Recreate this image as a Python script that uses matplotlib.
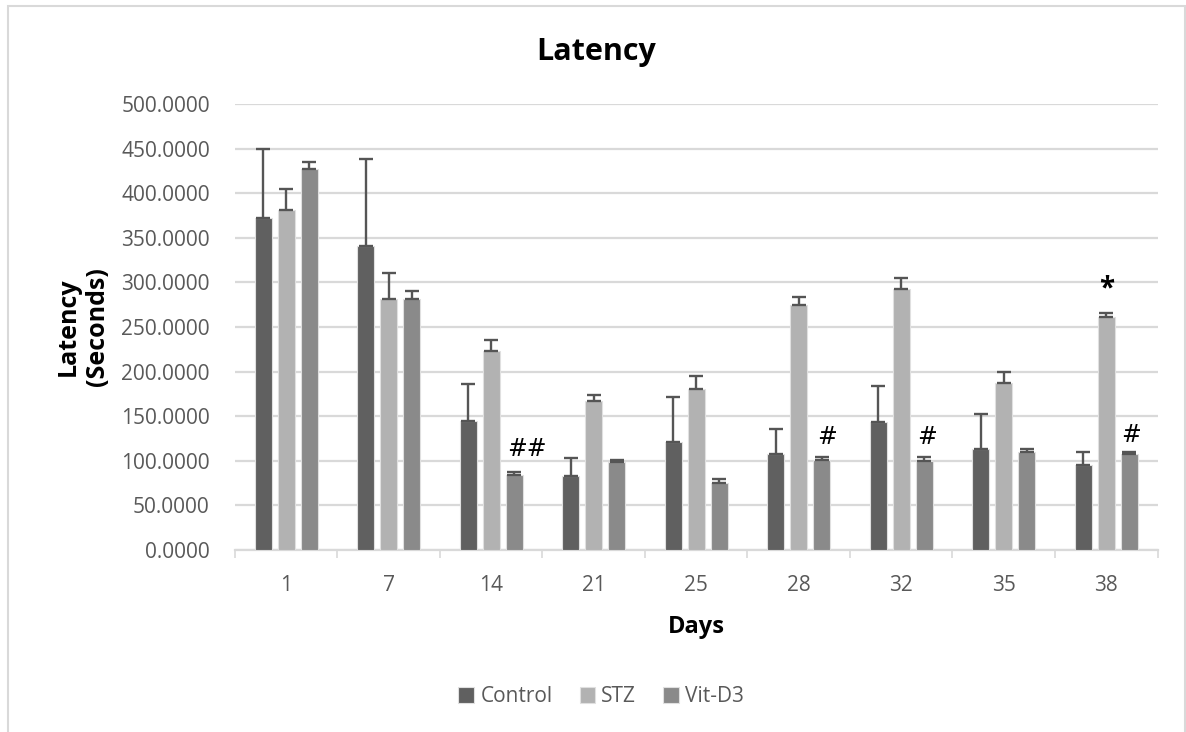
import numpy as np
import matplotlib.pyplot as plt
from matplotlib.patches import Rectangle

plt.rcParams['font.family'] = ['Open Sans', 'DejaVu Sans']

# Datos
dias = ['1', '7', '14', '21', '25', '28', '32', '35', '38']
control = [372, 341, 145, 83, 121, 108, 144, 113, 95]
control_err = [77, 97, 41, 20, 51, 28, 40, 39, 15]
stz = [381, 281, 223, 167, 180, 275, 293, 187, 261]
stz_err = [24, 29, 12, 7, 15, 9, 12, 12, 5]
vitd3 = [427, 281, 84, 99, 75, 101, 100, 110, 108]
vitd3_err = [8, 9, 4, 2, 5, 3, 4, 3, 2]

series = ['Control', 'STZ', 'Vit-D3']
colores = ['#606060', '#b2b2b2', '#8a8a8a']

# marcas de significancia: (indice dia, serie, texto, altura, desplazamiento x)
marcas = [(2, 2, '##', 100, 0.12), (5, 2, '#', 113, 0.05), (6, 2, '#', 113, 0.03),
          (8, 2, '#', 116, 0.02), (8, 1, '*', 276, 0.0)]

fig = plt.figure(figsize=(11.86, 7.32), dpi=100)
ax = fig.add_axes([0.198, 0.2486, 0.778, 0.6094])

x = np.arange(len(dias))
w = 0.166
paso = 0.224
valores = [control, stz, vitd3]
errores = [control_err, stz_err, vitd3_err]
for i in range(3):
    ax.bar(x + (i - 1) * paso, valores[i], w, color=colores[i],
           edgecolor='#e0e0e0', linewidth=0.8, label=series[i], zorder=3)
    ax.errorbar(x + (i - 1) * paso, valores[i],
                yerr=[np.zeros(len(dias)), errores[i]], fmt='none',
                ecolor='#555555', elinewidth=1.7, capsize=5, capthick=1.7, zorder=4)

for d, s, txt, h, dx in marcas:
    if txt == '*':
        ax.text(x[d] + (s - 1) * paso + dx, h, txt, ha='center', va='bottom',
                fontsize=20, fontweight='bold', color='black', zorder=5)
    else:
        ax.text(x[d] + (s - 1) * paso + dx, h, txt, ha='center', va='bottom',
                fontsize=17, family='DejaVu Sans', color='black', zorder=5)

ax.set_ylim(0, 500)
ax.set_xlim(-0.5, len(dias) - 0.5)
ax.set_yticks(np.arange(0, 501, 50))
ax.set_yticklabels([f'{v:.4f}' for v in np.arange(0, 501, 50)])
ax.set_xticks(x)
ax.set_xticklabels(dias)
ax.set_xticks(np.arange(-0.5, len(dias), 1), minor=True)
ax.tick_params(axis='x', which='major', length=0, pad=18, labelsize=15, labelcolor='#595959')
ax.tick_params(axis='x', which='minor', length=6, width=1.2, color='#d9d9d9')
ax.tick_params(axis='y', length=0, pad=18, labelsize=15, labelcolor='#595959')

ax.grid(axis='y', color='#d9d9d9', linewidth=1.6, zorder=0)
ax.set_axisbelow(True)
for lado in ['top', 'right', 'left']:
    ax.spines[lado].set_visible(False)
ax.spines['bottom'].set_color('#d9d9d9')
ax.spines['bottom'].set_linewidth(1.6)

fig.text(0.503, 0.918, 'Latency', ha='center', va='baseline', fontsize=22, fontweight='bold')
ax.set_xlabel('Days', fontsize=17, fontweight='bold', labelpad=14)
ax.set_ylabel('Latency\n(Seconds)', fontsize=18, fontweight='bold', labelpad=8)

ax.legend(loc='center', bbox_to_anchor=(0.507, 0.048), bbox_transform=fig.transFigure,
          ncol=3, frameon=False, fontsize=15, handlelength=0.75, handleheight=0.75,
          handletextpad=0.3, columnspacing=1.3, labelcolor='#595959')

fig.patches.append(Rectangle((8 / 1186, -0.1), 1177 / 1186, 1.1 - 6 / 732,
                             transform=fig.transFigure, fill=False,
                             edgecolor='#d9d9d9', linewidth=1.5))

plt.savefig('out.png', dpi=100)
